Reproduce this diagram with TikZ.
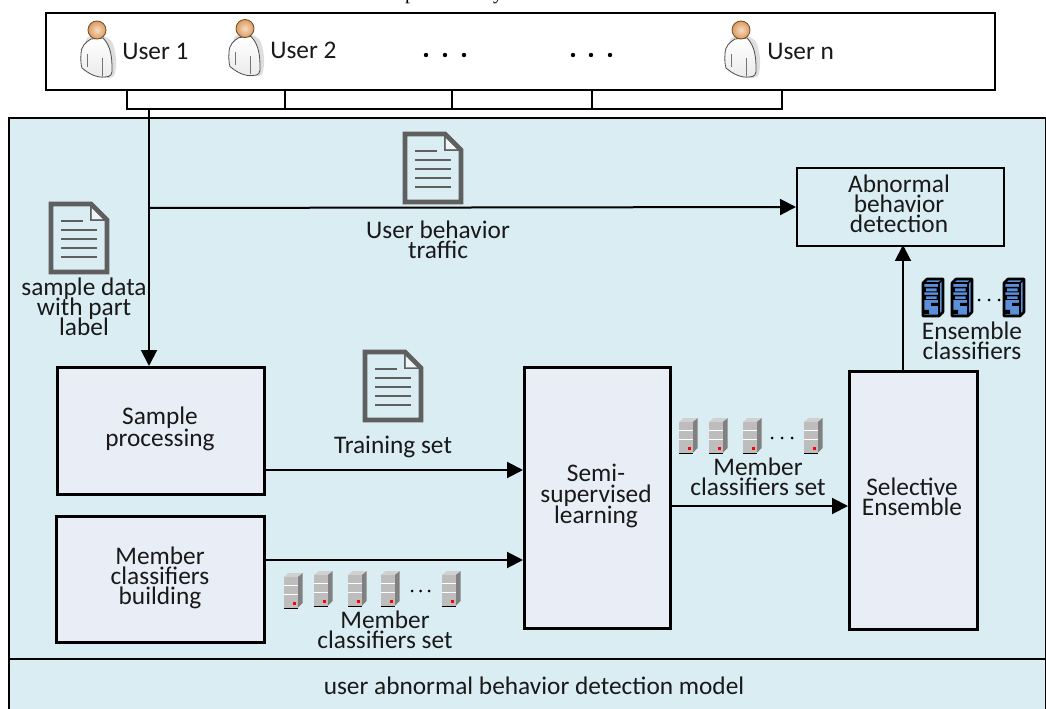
\documentclass[tikz,border=0pt]{standalone}
\usepackage{fontspec}
\setmainfont{Carlito}
\newfontfamily\serifcut{Liberation Serif}
\usetikzlibrary{arrows.meta,shadings}
\AtBeginDocument{\lineskiplimit=-20pt \normallineskiplimit=-20pt }
\definecolor{panelblue}{HTML}{DAEDF3}
\definecolor{boxfill}{HTML}{E9EDF5}
\definecolor{docgray}{HTML}{5F5F5F}
\definecolor{srvfront}{HTML}{BDBDBD}
\definecolor{srvside}{HTML}{808080}
\definecolor{srvtop}{HTML}{D0D0D0}
\definecolor{bluesrv}{HTML}{5B8FD9}
\definecolor{headin}{HTML}{F6DCC2}
\definecolor{headout}{HTML}{DC9A60}
\tikzset{
  panelline/.style={draw=black,line width=1.5pt},
  procbox/.style={draw=black,fill=boxfill,line width=2pt},
  lbl/.style={font=\fontsize{19}{15}\selectfont,align=center,text=black!90,inner sep=0pt},
  conn/.style={draw=black,line width=1.5pt},
  arr/.style={conn,-{Triangle[length=12pt,width=12pt]}},
  pics/docicon/.style={code={
    \draw[docgray,line width=3.6pt,miter limit=10] (-28,-34) -- (12,-34) -- (28,-18) -- (28,34) -- (-28,34) -- cycle;
    \draw[docgray,line width=1.6pt] (12,-34) -- (12,-18) -- (28,-18);
    \fill[white,opacity=.55] (12.5,-30) -- (12.5,-18.5) -- (24,-18.5) -- cycle;
    \draw[docgray,line width=1.5pt] (-18,-17) -- (4,-17);
    \foreach \yy in {-8,1,10,19} \draw[docgray,line width=1.5pt] (-18,\yy) -- (18,\yy);
  }},
  pics/servericon/.style={code={
    \fill[srvside] (13.5,4) -- (18.5,0) -- (18.5,30) -- (13.5,35) -- cycle;
    \fill[srvtop] (0,4) -- (4.5,0) -- (18.5,0) -- (13.5,4) -- cycle;
    \fill[srvfront] (0,4) rectangle (13.5,35);
    \draw[black,line width=.7pt] (0,35) -- (13.5,35);
    \draw[white,line width=.7pt] (0,12.5) -- (13.5,12.5) (0,21) -- (13.5,21);
    \fill[red] (9,28.5) rectangle (12,31.5);
  }},
  pics/blueicon/.style={code={
    \draw[black,line width=1.9pt,line join=round,fill=bluesrv] (0,4) -- (4,0) -- (20,0) -- (20,33) -- (16,37) -- (0,37) -- cycle;
    \draw[black,line width=1.3pt] (0,4) -- (16,4) -- (20,0) (16,4) -- (16,37);
    \fill[black] (1,13.5) rectangle (15,8) (1,21) rectangle (15,16) (8,27) rectangle (15,24) (1,35) rectangle (6,31);
    \fill[bluesrv] (3,9.5) rectangle (13.5,12.5) (3,17.5) rectangle (13.5,20);
  }},
  pics/usericon/.style={code={
    \fill[black!25,opacity=.5] (-11,10) .. controls (-9,3) and (12,3) .. (16,14) .. controls (20,26) and (20,38) .. (17,46) .. controls (11,51) and (-2,46) .. (-12,38) -- cycle;
    \draw[black!70,line width=.6pt,top color=white,bottom color=black!8] (-6,9) .. controls (-11,12) and (-16,16) .. (-16,24) .. controls (-16.5,30) and (-16,35) .. (-15,38) .. controls (-8,44) and (0,48) .. (8,47) .. controls (14,47) and (15.5,44) .. (15,38) .. controls (15,28) and (14,16) .. (6,8) -- cycle;
    \draw[black!55,line width=.5pt] (-10,24) -- (-10,37) (5,28) -- (5,46);
    \draw[brown!60!black,line width=.6pt,inner color=headin,outer color=headout] (0,0) circle (9);
  }},
}
\begin{document}
\begin{tikzpicture}[x=0.75pt,y=-0.75pt]
\useasboundingbox (0,0) rectangle (1046,709);
% clipped caption at the very top
\node[font=\serifcut\fontsize{15}{15}\selectfont,anchor=base,inner sep=0pt] (capp) at (410,-0.5) {p};
\node[font=\serifcut\fontsize{15}{15}\selectfont,anchor=base,inner sep=0pt] (capy) at (498,-0.5) {y};
% panel
\fill[panelblue] (9,118) rectangle (1046,709);
\draw[panelline] (9,709) -- (9,118) -- (1046,118);
\draw[panelline] (9,659) -- (1046,659);
\draw[black,line width=.8pt] (1045.5,118) -- (1045.5,709);
% users box
\node[draw=black,line width=1.5pt,fill=white,minimum width=949*0.75pt,minimum height=77*0.75pt,inner sep=0pt,anchor=north west] (users) at (45,12.5) {};
\coordinate (d1) at (127,89); \coordinate (d2) at (285,89); \coordinate (d3) at (452,89); \coordinate (d4) at (592,89); \coordinate (d5) at (782,89);
\coordinate (bus) at (149,109);
\draw[conn] (d1) -- (127,109) -- (782,109) -- (d5);
\draw[conn] (d2) -- (285,109);
\draw[conn] (d3) -- (452,109);
\draw[conn] (d4) -- (592,109);
\pic at (97,30) {usericon};
\pic at (245,28.5) {usericon};
\pic at (741,30) {usericon};
\node[lbl,anchor=west] (u1) at (122,51.5) {User 1};
\node[lbl,anchor=west] (u2) at (270,50) {User 2};
\node[lbl,anchor=west] (un) at (767,51) {User n};
\foreach \xx in {426,445,464,573,591,610} \fill[black] (\xx,55) circle (2.2);
% boxes
\newcommand{\bx}[6]{\node[#6,minimum width=#4*0.75pt,minimum height=#5*0.75pt,inner sep=0pt,anchor=north west] (#1) at (#2,#3) {};}
\bx{sample}{56}{366}{207}{127}{procbox}
\bx{member}{55}{515}{208}{126}{procbox}
\bx{semi}{523}{366}{146}{261}{procbox}
\bx{sel}{848}{370}{128}{258}{procbox}
\node[draw=black,line width=1.5pt,fill=panelblue,minimum width=207*0.75pt,minimum height=78*0.75pt,inner sep=0pt,anchor=north west] (abn) at (796,167) {};
\node[lbl] (tsample) at (160,429) {Sample\\[1.5pt]processing};
\node[lbl] (tmember) at (160,578) {Member\\classifiers\\building};
\node[lbl] (tsemi) at (596,496) {Semi-\\[1pt]supervised\\[1pt]learning};
\node[lbl] (tsel) at (912,497) {Selective\\Ensemble};
\node[lbl] (tabn) at (899,204) {Abnormal\\behavior\\detection};
% connectors
\coordinate (j1) at (149,208);
\coordinate (a1) at (abn.west);
\coordinate (s1) at (149,366);
\draw[arr] (bus) -- (s1);
\draw[arr] (j1) -- (a1);
\coordinate (t0) at (263,470); \coordinate (t1) at (523,470);
\draw[arr] (t0) -- (t1);
\coordinate (m0) at (263,560); \coordinate (m1) at (523,560);
\draw[arr] (m0) -- (m1);
\coordinate (c0) at (669,506); \coordinate (c1) at (848,506);
\draw[arr] (c0) -- (c1);
\coordinate (e0) at (903,370); \coordinate (e1) at (903,245);
\draw[arr] (e0) -- (e1);
% icons
\pic at (433,168) {docicon};
\pic at (79,238) {docicon};
\pic at (393,386) {docicon};
\foreach \xx/\yy in {284/573,314/571,348/571,381/571,442/571,679/418,709/418,743/418,804/418}
  \pic at (\xx,\yy) {servericon};
\foreach \xx in {412,420.5,429} \fill[black] (\xx,591) circle (1.5);
\foreach \xx in {772,782,792} \fill[black] (\xx,438) circle (1.5);
\foreach \xx in {923,952,1004} \pic at (\xx,279) {blueicon};
\foreach \xx in {979,989,999} \fill[black] (\xx,300) circle (1.5);
% labels
\node[lbl] (tub) at (438,240) {User behavior\\traffic};
\node[lbl] (tsd) at (84,307) {sample data\\with part\\label};
\node[lbl] (ttr) at (393,447) {Training set};
\node[lbl] (tm1) at (758,477) {Member\\classifiers set};
\node[lbl] (tm2) at (385,630) {Member\\classifiers set};
\node[lbl] (ten) at (972,341) {Ensemble\\classifiers};
\node[lbl] (tmodel) at (534,686) {user abnormal behavior detection model};
\end{tikzpicture}
\end{document}
